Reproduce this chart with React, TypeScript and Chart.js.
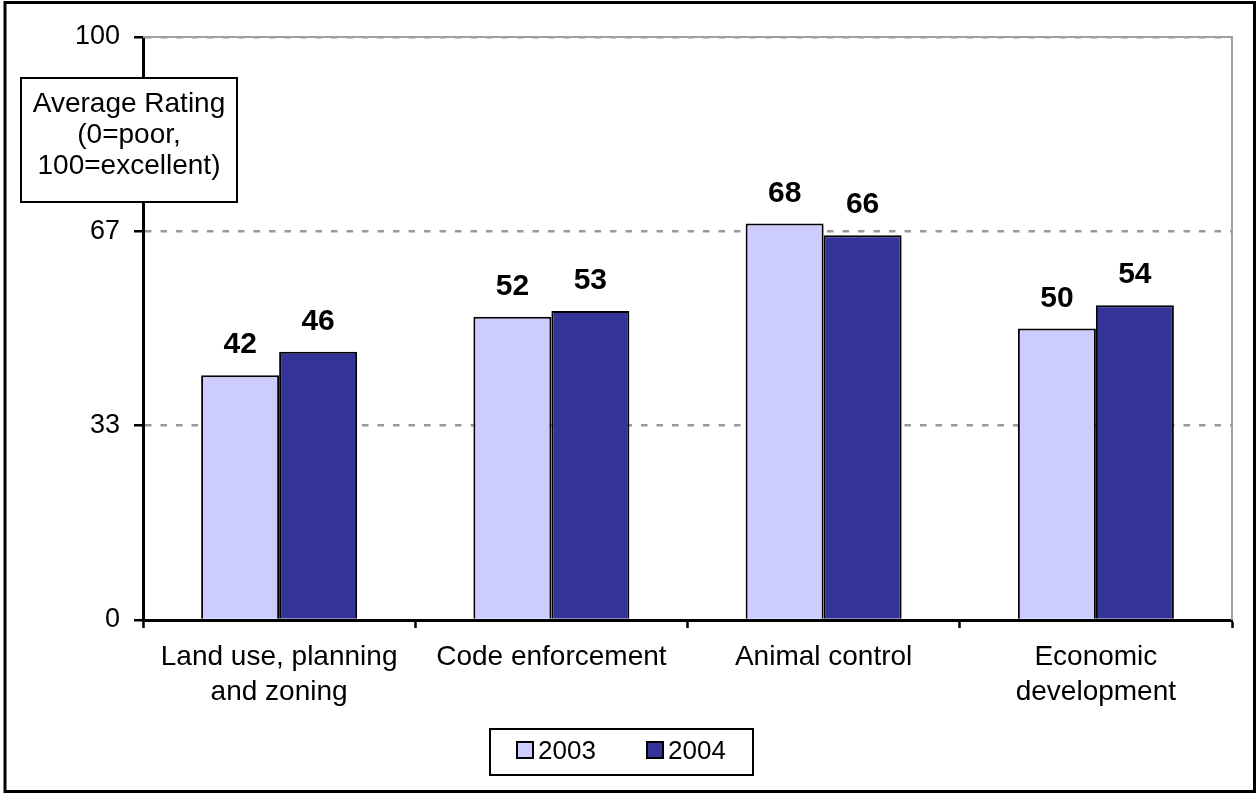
import { useEffect, useRef } from 'react';
import { Chart, registerables } from 'chart.js';

Chart.register(...registerables);

const categories: string[][] = [
  ['Land use, planning', 'and zoning'],
  ['Code enforcement'],
  ['Animal control'],
  ['Economic', 'development'],
];
const seriesNames = ['2003', '2004'];
const values2003 = [42, 52, 68, 50];
const values2004 = [46, 53, 66, 54];
const yTickValues = [0, 100 / 3, 200 / 3, 100];
const yTickLabels = ['0', '33', '67', '100'];
const axisTitleLines = ['Average Rating', '(0=poor,', '100=excellent)'];

const FONT = "'Liberation Sans', Arial, sans-serif";
const COLORS = ['#CCCCFF', '#333399'];

const framePlugin = {
  id: 'frame',
  beforeDraw(chart: any) {
    const ctx = chart.ctx;
    ctx.save();
    ctx.fillStyle = '#ffffff';
    ctx.fillRect(0, 0, chart.width, chart.height);
    ctx.restore();
  },
  beforeDatasetsDraw(chart: any) {
    const { ctx, chartArea } = chart;
    ctx.save();
    ctx.strokeStyle = '#a0a0a0';
    ctx.lineWidth = 2;
    ctx.beginPath();
    ctx.moveTo(chartArea.left, chartArea.top);
    ctx.lineTo(chartArea.right, chartArea.top);
    ctx.lineTo(chartArea.right, chartArea.bottom);
    ctx.stroke();
    ctx.restore();
  },
  afterDraw(chart: any) {
    const ctx = chart.ctx;
    ctx.save();
    ctx.strokeStyle = '#000000';
    ctx.lineWidth = 3;
    ctx.strokeRect(5, 2.5, 1249.5, 789);
    ctx.restore();
  },
};

const dataLabelPlugin = {
  id: 'dataLabels',
  afterDatasetsDraw(chart: any) {
    const ctx = chart.ctx;
    ctx.save();
    ctx.font = `bold 30px ${FONT}`;
    ctx.fillStyle = '#000000';
    ctx.textAlign = 'center';
    ctx.textBaseline = 'alphabetic';
    chart.data.datasets.forEach((ds: any, di: number) => {
      const meta = chart.getDatasetMeta(di);
      meta.data.forEach((el: any, i: number) => {
        ctx.fillText(String(ds.data[i]), el.x, el.y - 22);
      });
    });
    ctx.restore();
  },
};

const annotationPlugin = {
  id: 'boxes',
  afterDraw(chart: any) {
    const ctx = chart.ctx;
    ctx.save();
    // axis title box
    ctx.fillStyle = '#ffffff';
    ctx.fillRect(21, 78, 216, 124);
    ctx.strokeStyle = '#000000';
    ctx.lineWidth = 2;
    ctx.strokeRect(21, 78, 216, 124);
    ctx.fillStyle = '#000000';
    ctx.font = `28px ${FONT}`;
    ctx.textAlign = 'center';
    ctx.textBaseline = 'alphabetic';
    axisTitleLines.forEach((line, i) => {
      ctx.fillText(line, 129, 112 + i * 31);
    });

    // legend box
    ctx.fillStyle = '#ffffff';
    ctx.fillRect(490, 729, 263, 46);
    ctx.strokeStyle = '#000000';
    ctx.lineWidth = 2;
    ctx.strokeRect(490, 729, 263, 46);
    const itemX = [517, 647];
    chart.data.datasets.forEach((ds: any, i: number) => {
      const x = itemX[i];
      ctx.fillStyle = ds.backgroundColor;
      ctx.fillRect(x, 742, 16, 16);
      ctx.strokeStyle = '#000000';
      ctx.lineWidth = 2;
      ctx.strokeRect(x, 742, 16, 16);
      ctx.fillStyle = '#000000';
      ctx.textAlign = 'left';
      ctx.textBaseline = 'alphabetic';
      ctx.font = `26px ${FONT}`;
      ctx.fillText(ds.label, x + 21, 759);
    });
    ctx.restore();
  },
};

export default function App() {
  const canvasRef = useRef<HTMLCanvasElement | null>(null);

  useEffect(() => {
    document.body.style.margin = '0';
    const canvas = canvasRef.current;
    if (!canvas) return;
    const chart = new Chart(canvas, {
      type: 'bar',
      data: {
        labels: categories,
        datasets: [
          {
            label: seriesNames[0],
            data: values2003,
            backgroundColor: COLORS[0],
            borderColor: '#000000',
            borderWidth: 2,
            categoryPercentage: 0.573,
            barPercentage: 1,
          },
          {
            label: seriesNames[1],
            data: values2004,
            backgroundColor: COLORS[1],
            borderColor: '#000000',
            borderWidth: 2,
            categoryPercentage: 0.573,
            barPercentage: 1,
          },
        ],
      },
      options: {
        animation: false,
        responsive: false,
        devicePixelRatio: 1,
        layout: { padding: { left: 0, top: 37, right: 25, bottom: 0 } },
        plugins: {
          legend: { display: false },
          title: { display: false },
          tooltip: { enabled: false },
        },
        scales: {
          x: {
            offset: true,
            grid: {
              display: true,
              offset: true,
              drawOnChartArea: false,
              drawTicks: true,
              tickLength: 8,
              tickColor: '#000000',
              tickWidth: 2.5,
            },
            border: { display: true, color: '#000000', width: 3 },
            ticks: {
              color: '#000000',
              font: { family: FONT, size: 28, lineHeight: 1.25 },
              padding: 12,
              maxRotation: 0,
              autoSkip: false,
            },
            afterFit(scale: any) {
              scale.height = 173;
            },
          },
          y: {
            min: 0,
            max: 100,
            afterBuildTicks(scale: any) {
              scale.ticks = yTickValues.map((v) => ({ value: v }));
            },
            grid: {
              color: '#999999',
              lineWidth: 2.5,
              drawTicks: true,
              tickLength: 9,
              tickColor: '#000000',
              tickWidth: 2.5,
              tickBorderDash: [],
            },
            border: { display: true, color: '#000000', width: 3, dash: [6.5, 9] },
            ticks: {
              color: '#000000',
              font: { family: FONT, size: 27 },
              padding: 14,
              callback: (_v: any, i: number) => yTickLabels[i],
            },
            afterFit(scale: any) {
              scale.width = 143;
            },
          },
        },
      },
      plugins: [framePlugin, dataLabelPlugin, annotationPlugin],
    });
    return () => chart.destroy();
  }, []);

  return (
    <div style={{ position: 'absolute', left: 0, top: 0, width: 1257, height: 793 }}>
      <canvas ref={canvasRef} width={1257} height={793} style={{ display: 'block' }} />
    </div>
  );
}
